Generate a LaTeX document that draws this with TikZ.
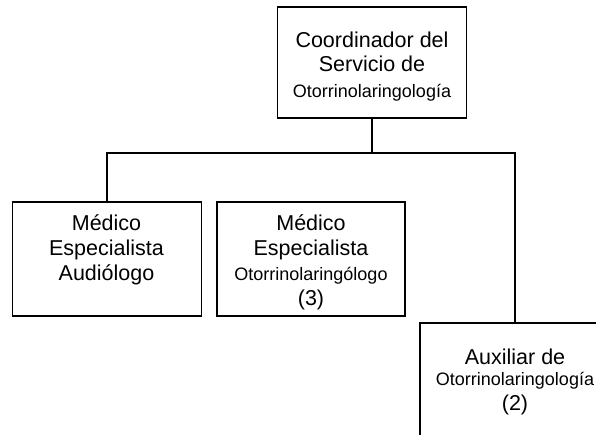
\documentclass[tikz,border=0pt]{standalone}
\usepackage{fontspec}
\setmainfont{Liberation Sans}
\begin{document}
\begin{tikzpicture}[x=1pt,y=-1pt,
  box/.style={draw=black,line width=1.4pt,rectangle,inner sep=0pt,outer sep=0pt},
  big/.style={font=\fontsize{21.5}{24}\selectfont,anchor=base,inner sep=0pt},
  small/.style={font=\fontsize{18}{20}\selectfont,anchor=base,inner sep=0pt},
  link/.style={draw=black,line width=1.4pt}]
\useasboundingbox (0,0) rectangle (596,434);
\clip (0,0) rectangle (596,434);
\fill[white] (0,0) rectangle (596,434);
% boxes
\node[box,minimum width=189pt,minimum height=111pt] (top) at (372,62.5) {};
\node[box,minimum width=189pt,minimum height=114pt] (left) at (107,259) {};
\node[box,minimum width=188pt,minimum height=114pt] (mid) at (311,259) {};
\node[box,minimum width=190pt,minimum height=114pt] (aux) at (515,380) {};
% connectors
\coordinate (j) at (372,153);
\draw[link] (top.south) -- (j);
\draw[link] (left.north) |- (j) -| (aux.north);
% texts
\node[big] (t1) at (372,47) {Coordinador del};
\node[big] (t2) at (372,71.5) {Servicio de};
\node[small] (t3) at (372,97) {Otorrinolaringología};
\node[big] (l1) at (106.5,230) {Médico};
\node[big] (l2) at (106.5,255) {Especialista};
\node[big] (l3) at (106.5,280) {Audiólogo};
\node[big] (m1) at (311,230) {Médico};
\node[big] (m2) at (311,255) {Especialista};
\node[small] (m3) at (311,280) {Otorrinolaringólogo};
\node[big] (m4) at (311,305) {(3)};
\node[big] (a1) at (515,364) {Auxiliar de};
\node[small] (a2) at (515,385) {Otorrinolaringología};
\node[big] (a3) at (515,410) {(2)};
\end{tikzpicture}
\end{document}
